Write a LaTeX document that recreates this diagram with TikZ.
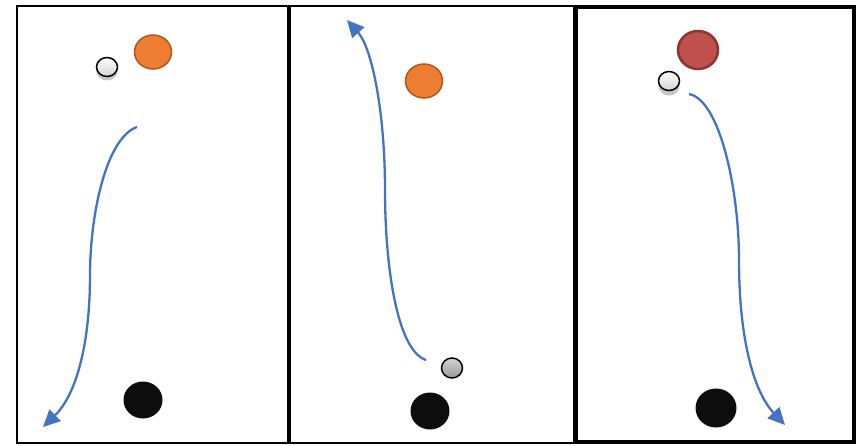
\documentclass[tikz,border=0pt]{standalone}
\usepackage{xcolor}
\usepackage{tikz}
\usetikzlibrary{arrows.meta, positioning, calc, shapes.geometric}

\definecolor{jingga}{HTML}{ED7D31}
\definecolor{jinggatua}{HTML}{B0561B}
\definecolor{merah}{HTML}{C0504D}
\definecolor{merahtua}{HTML}{8E3432}
\definecolor{biru}{HTML}{4472C4}

\begin{document}
\begin{tikzpicture}[
    x=1pt, y=-1pt,
    bingkai/.style={draw, line width=2pt},
    bola/.style={ellipse, inner sep=0pt, line width=1.5pt},
    bolaputih/.style={bola, draw, top color=white, bottom color=gray!35,
                      minimum width=21pt, minimum height=19pt},
    bayang/.style={ellipse, fill=gray!45, inner sep=0pt,
                   minimum width=21pt, minimum height=19pt},
    bolajingga/.style={bola, draw=jinggatua, fill=jingga,
                       minimum width=37pt, minimum height=34pt},
    bolahitam/.style={bola, fill=black!95, minimum width=39pt, minimum height=37pt},
    panah/.style={-{Triangle[length=17pt, width=16pt]}, biru, line width=2.3pt}
  ]
    \useasboundingbox (0,0) rectangle (857,445);

    % tiga bingkai
    \draw[bingkai] (17,6) rectangle (288,443);
    \draw[bingkai] (290,6) rectangle (574,443);
    \draw[line width=4.5pt] (576,7) rectangle (854,442);

    % bingkai pertama
    \node[bayang] (bayang1) at (107,71) {};
    \node[bolaputih] (putih1) at (107,67) {};
    \node[bolajingga] (jingga1) at (153,52) {};
    \node[bolahitam] (hitam1) at (143,400) {};
    \coordinate (awal1) at (137,127);
    \coordinate (tengah1) at (90,275);
    \coordinate (akhir1) at (43,427);
    \draw[panah] (awal1) .. controls (106,138) and (90,215) .. (tengah1)
      .. controls (90,345) and (76,395) .. (akhir1);

    % bingkai kedua
    \node[bolajingga] (jingga2) at (424,81) {};
    \node[bola, draw, top color=gray!35, bottom color=gray!80,
          minimum width=21pt, minimum height=20pt] (abu2) at (452,368) {};
    \node[bolahitam] (hitam2) at (430,411) {};
    \coordinate (awal2) at (426,360);
    \coordinate (tengah2) at (385,190);
    \coordinate (akhir2) at (347,20);
    \draw[panah] (awal2) .. controls (396,350) and (385,262) .. (tengah2)
      .. controls (385,112) and (372,48) .. (akhir2);

    % bingkai ketiga
    \node[bola, draw=merahtua, fill=merah, line width=2.5pt,
          minimum width=40pt, minimum height=38pt] (merah3) at (698,50) {};
    \node[bayang] (bayang3) at (669,86) {};
    \node[bolaputih] (putih3) at (669,81) {};
    \node[bolahitam, minimum width=41pt, minimum height=39pt] (hitam3) at (716,408) {};
    \coordinate (awal3) at (689,94);
    \coordinate (tengah3) at (739,260);
    \coordinate (akhir3) at (785,425);
    \draw[panah] (awal3) .. controls (720,100) and (739,190) .. (tengah3)
      .. controls (739,340) and (754,392) .. (akhir3);
  \end{tikzpicture}
\end{document}
